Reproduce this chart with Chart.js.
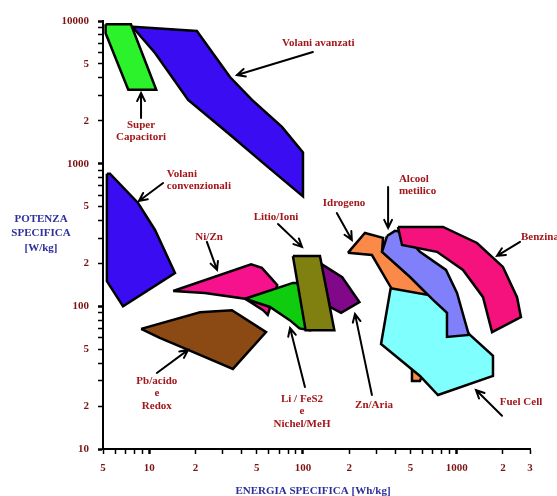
<!DOCTYPE html>
<html>
<head>
<meta charset="utf-8">
<script src="https://cdn.jsdelivr.net/npm/chart.js@4.4.0/dist/chart.umd.min.js"></script>
<style>
  html, body { margin: 0; padding: 0; background: #fff; }
  #wrap { width: 557px; height: 496px; }
</style>
</head>
<body>
<div id="wrap"><canvas id="ragone"></canvas></div>
<script>
// Ragone plot: specific energy [Wh/kg] vs specific power [W/kg], each region is [energy, power] pairs
const volaniAvanzati = [[7.8, 9100], [20.4, 8500], [33.5, 4050], [46.6, 2800], [73, 1810], [100, 1200], [100, 590], [59, 950], [32.5, 1640], [17.9, 2800], [10.9, 5970], [8.2, 8500]];
const superCapacitori = [[5.2, 9500], [7.6, 9500], [11.1, 3300], [7.3, 3300], [5.2, 8200]];
const volaniConvenzionali = [[5.3, 850], [5.55, 850], [8.45, 530], [10.9, 343], [14.7, 171], [6.75, 100], [5.3, 150]];
const niZn = [[14.3, 128], [46, 197], [54, 186], [61, 161], [68, 141], [59, 87], [55, 94], [42, 113], [23, 124]];
const liFeS2 = [[42, 113], [86, 146], [111, 146], [111, 68], [95, 70], [82, 80], [61, 99]];
const nichelMeH = [[86, 225], [129, 225], [160, 68], [104, 68]];
const znAria = [[129, 201], [180, 160], [233, 107], [177, 90], [150, 99]];
const pbAcido = [[8.85, 69.5], [21.4, 91], [34.5, 94], [57.5, 66], [35, 36.4], [17.9, 49.5], [11.7, 60]];
const idrogeno = [[196, 237], [253, 327], [332, 302], [327, 241], [497, 161], [702, 111], [779, 68], [577, 30], [512, 30], [512, 58], [374, 135], [281, 229]];
const fuelCell = [[372, 134], [779, 116], [1221, 63], [1723, 45], [1723, 32.5], [756, 23.9], [577, 32.5], [322, 54.5]];
const alcoolMetilico = [[352, 311], [397, 338], [441, 332], [577, 241], [852, 180], [1005, 124], [1200, 63], [865, 61], [865, 90], [702, 111], [497, 161], [327, 241]];
const benzina = [[415, 360], [815, 360], [1356, 278], [2000, 189], [2470, 116], [2620, 84], [1700, 66], [1484, 116], [1100, 180], [745, 241], [441, 269]];

// tick marks and their labels
const xTicks = [5, 6, 7, 8, 9, 10, 20, 30, 40, 50, 60, 70, 80, 90, 100, 200, 300, 400, 500, 600, 700, 800, 900, 1000, 2000, 3000];
const xTickLabels = { 5: '5', 10: '10', 20: '2', 50: '5', 100: '100', 200: '2', 500: '5', 1000: '1000', 2000: '2', 3000: '3' };
const yTicks = [10, 20, 30, 40, 50, 60, 70, 80, 90, 100, 200, 300, 400, 500, 600, 700, 800, 900, 1000, 2000, 3000, 4000, 5000, 6000, 7000, 8000, 9000, 10000];
const yTickLabels = { 10: '10', 20: '2', 50: '5', 100: '100', 200: '2', 500: '5', 1000: '1000', 2000: '2', 5000: '5', 10000: '10000' };

// drawn back to front
const regions = [
    { data: volaniAvanzati, color: '#3a0cf2' },
    { data: superCapacitori, color: '#2cf22c' },
    { data: volaniConvenzionali, color: '#3a0cf2' },
    { data: pbAcido, color: '#8b4a14' },
    { data: niZn, color: '#f5128c' },
    { data: liFeS2, color: '#0fcc0f' },
    { data: znAria, color: '#82088a' },
    { data: nichelMeH, color: '#808010' },
    { data: idrogeno, color: '#fb8a48' },
    { data: fuelCell, color: '#80ffff' },
    { data: alcoolMetilico, color: '#8080fa' },
    { data: benzina, color: '#f5127c' }
];

// labels and arrows, anchored in data units
const notes = [
    { lines: ['Volani avanzati'], at: [73, 7000], align: 'left', from: [116, 6060], to: [37.2, 4180] },
    { lines: ['Super', 'Capacitori'], at: [8.84, 1870], align: 'center', from: [8.84, 2090], to: [8.84, 3130] },
    { lines: ['Volani', 'convenzionali'], at: [13, 847], align: 'left', from: [12.3, 732], to: [8.57, 548] },
    { lines: ['Ni/Zn'], at: [24.5, 306], align: 'center', from: [23.7, 283], to: [27.6, 180] },
    { lines: ['Litio/Ioni'], at: [66.8, 423], align: 'center', from: [68.8, 378], to: [98.6, 261] },
    { lines: ['Idrogeno'], at: [185, 530], align: 'center', from: [166, 451], to: [208, 292] },
    { lines: ['Alcool', 'metilico'], at: [421, 781], align: 'left', from: [358, 687], to: [358, 354] },
    { lines: ['Benzina'], at: [2622, 306], align: 'left', from: [2583, 283], to: [1830, 226] },
    { lines: ['Fuel Cell'], at: [2622, 21.4], align: 'center', from: [1972, 17.1], to: [1336, 25.9] },
    { lines: ['Zn/Aria'], at: [290, 20.4], align: 'center', from: [281, 23.9], to: [218, 88.5] },
    { lines: ['Li / FeS2', 'e', 'Nichel/MeH'], at: [98.6, 22.4], align: 'center', from: [103, 27.2], to: [82.4, 70.6] },
    { lines: ['Pb/acido', 'e', 'Redox'], at: [11.2, 30], align: 'center', from: [11.2, 34.1], to: [17.9, 49.5] }
];

const serif = "'Liberation Serif', 'DejaVu Serif', serif";
const labelRed = '#a3161a';
const tickRed = '#7d1414';
const titleBlue = '#2e2e9c';

const datasets = regions.map((r, i) => ({
    data: r.data.concat([r.data[0]]).map(p => ({ x: p[0], y: p[1] })),
    backgroundColor: r.color,
    borderColor: '#000',
    borderWidth: 2.5,
    pointRadius: 0,
    pointHoverRadius: 0,
    tension: 0,
    fill: 'shape',
    order: -i
}));

// draws the annotation texts, arrows and axis titles
const notesPlugin = {
    id: 'notes',
    afterDatasetsDraw(chart) {
        const { ctx, chartArea, scales: { x, y } } = chart;
        ctx.save();
        notes.forEach(n => {
            // arrow
            const x1 = x.getPixelForValue(n.from[0]), y1 = y.getPixelForValue(n.from[1]);
            const x2 = x.getPixelForValue(n.to[0]), y2 = y.getPixelForValue(n.to[1]);
            const a = Math.atan2(y2 - y1, x2 - x1);
            ctx.strokeStyle = '#000';
            ctx.lineWidth = 2;
            ctx.lineCap = 'round';
            ctx.beginPath();
            ctx.moveTo(x1, y1);
            ctx.lineTo(x2, y2);
            ctx.moveTo(x2 - 9 * Math.cos(a - 0.45), y2 - 9 * Math.sin(a - 0.45));
            ctx.lineTo(x2, y2);
            ctx.lineTo(x2 - 9 * Math.cos(a + 0.45), y2 - 9 * Math.sin(a + 0.45));
            ctx.stroke();
            // text
            ctx.fillStyle = labelRed;
            ctx.font = 'bold 11px ' + serif;
            ctx.textAlign = n.align;
            ctx.textBaseline = 'middle';
            const tx = x.getPixelForValue(n.at[0]), ty = y.getPixelForValue(n.at[1]);
            n.lines.forEach((t, k) => ctx.fillText(t, tx, ty + k * 12.5));
        });
        // axis titles
        ctx.fillStyle = titleBlue;
        ctx.font = 'bold 11px ' + serif;
        ctx.textAlign = 'center';
        ctx.textBaseline = 'middle';
        ['POTENZA', 'SPECIFICA', '[W/kg]'].forEach((t, k) => ctx.fillText(t, chartArea.left - 62, chartArea.top + 198 + k * 14.5));
        ctx.fillText('ENERGIA SPECIFICA [Wh/kg]', chartArea.left + 210, chartArea.bottom + 42);
        ctx.restore();
    }
};

const axisCommon = (ticks, labels, padding) => ({
    type: 'logarithmic',
    min: ticks[0],
    max: ticks[ticks.length - 1],
    afterBuildTicks: scale => { scale.ticks = ticks.map(v => ({ value: v, major: labels[v] !== undefined })); },
    border: { display: true, color: '#000', width: 2 },
    grid: {
        display: true,
        drawOnChartArea: false,
        drawTicks: true,
        tickLength: 5,
        tickColor: '#000',
        tickWidth: c => (c.tick && Math.log10(c.tick.value) % 1 === 0 ? 2.5 : 1.5)
    },
    ticks: {
        autoSkip: false,
        maxRotation: 0,
        padding: padding,
        color: tickRed,
        font: { family: serif, size: 11, weight: 'bold' },
        callback: value => labels[value] || ''
    }
});

new Chart(document.getElementById('ragone'), {
    type: 'line',
    data: { datasets },
    options: {
        responsive: true,
        maintainAspectRatio: false,
        animation: false,
        layout: { padding: { left: 0, right: 27, top: 21, bottom: 0 } },
        plugins: { legend: { display: false }, tooltip: { enabled: false } },
        scales: {
            x: Object.assign(axisCommon(xTicks, xTickLabels, 8), {
                afterFit: scale => { scale.height = 47; }
            }),
            y: Object.assign(axisCommon(yTicks, yTickLabels, 9), {
                afterFit: scale => { scale.width = 103; }
            })
        }
    },
    plugins: [notesPlugin]
});
</script>
</body>
</html>
